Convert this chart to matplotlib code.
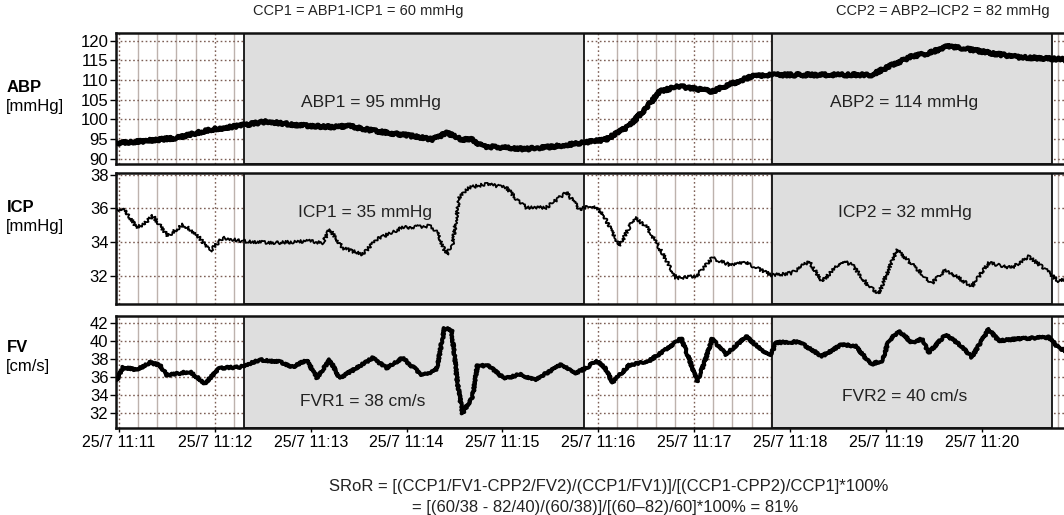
import matplotlib as mpl
mpl.use('Agg')
import matplotlib.pyplot as plt
import numpy as np

plt.rcParams['font.family'] = ['Liberation Sans', 'DejaVu Sans']

# time in minutes after 25/7 11:11
abp_t = [-0.02, 0.25, 0.60, 0.95, 1.23, 1.54, 1.81, 2.17, 2.41, 2.69, 3.03, 3.27, 3.42, 3.58,
         3.69, 3.79, 4.25, 4.56, 4.88, 5.08, 5.32, 5.50, 5.64, 5.84, 6.19, 6.36, 6.60, 6.81,
         7.23, 7.85, 8.03, 8.27, 8.45, 8.63, 8.79, 9.15, 9.39, 9.80, 9.86]
abp = [94.0, 94.5, 95.3, 97.4, 98.3, 99.5, 98.7, 98.1, 98.3, 97.0, 95.9, 94.9, 96.6, 94.9,
       94.9, 93.2, 92.5, 93.2, 94.2, 94.9, 98.3, 102.9, 107.1, 108.4, 107.1, 108.8, 110.9, 111.3,
       111.3, 111.3, 113.4, 116.0, 116.8, 118.5, 118.1, 116.6, 115.8, 115.3, 115.2]

icp_x = [117, 125, 137, 143, 153, 168, 183, 197, 210, 223, 243, 277, 310, 323, 330, 343, 363,
         377, 403, 430, 437, 447, 453, 460, 470, 487, 507, 517, 527, 547, 567, 580, 593, 603,
         620, 635, 647, 660, 677, 697, 713, 730, 747, 773, 793, 810, 823, 843, 853, 870, 880,
         898, 910, 933, 947, 973, 990, 1013, 1030, 1047, 1060, 1066]
icp = [35.94, 35.88, 34.85, 35.04, 35.54, 34.35, 35.04, 34.45, 33.45, 34.25, 34.05, 33.95,
       34.05, 33.95, 34.75, 33.65, 33.25, 34.15, 34.85, 34.95, 34.65, 33.25, 33.85, 36.64,
       37.23, 37.43, 37.23, 36.54, 36.04, 36.04, 36.94, 35.95, 36.14, 35.74, 33.74, 35.44,
       34.95, 33.65, 31.86, 31.96, 33.05, 32.66, 32.76, 32.02, 32.16, 32.86, 31.66, 32.86,
       32.66, 31.36, 30.96, 33.55, 32.86, 31.56, 32.36, 31.36, 32.76, 32.46, 33.15, 32.36,
       31.66, 31.8]

fv_x = [117, 123, 137, 150, 160, 167, 190, 205, 220, 240, 260, 280, 293, 307, 317, 330, 340,
        357, 373, 387, 403, 423, 437, 445, 452, 458, 463, 473, 478, 490, 505, 520, 535, 550,
        562, 575, 587, 597, 606, 613, 630, 650, 665, 682, 690, 698, 705, 713, 727, 747, 763,
        772, 777, 800, 823, 843, 857, 872, 883, 890, 900, 913, 923, 930, 947, 963, 973, 990,
        1000, 1017, 1050, 1061, 1066]
fv = [35.7, 37.1, 36.8, 37.6, 37.3, 36.2, 36.6, 35.3, 37.0, 37.1, 37.9, 37.7, 37.1, 37.9,
      35.9, 37.9, 35.9, 37.0, 38.1, 37.0, 38.1, 36.2, 36.8, 41.4, 41.2, 35.3, 32.0, 33.8,
      37.3, 37.2, 35.8, 36.3, 35.7, 36.6, 37.4, 36.4, 37.0, 37.8, 37.0, 35.4, 37.3, 37.8,
      38.9, 40.3, 38.0, 35.5, 37.5, 40.2, 38.5, 40.5, 38.9, 38.5, 39.8, 39.9, 38.3, 39.6,
      39.4, 37.4, 37.8, 40.0, 41.1, 39.8, 40.2, 38.7, 40.7, 39.4, 38.2, 41.3, 40.0, 40.2,
      40.4, 39.1, 39.0]

# sample positions were read in picture pixels: 11:11 at 119 px, 96 px per minute
icp_t = [(x - 119) / 96 for x in icp_x]
fv_t = [(x - 119) / 96 for x in fv_x]

shade_start = [1.30, 6.81]
shade_end = [4.854, 9.73]
minute_labels = ['25/7 11:%02d' % m for m in range(11, 21)]

W, H = 1064, 515
fig = plt.figure(figsize=(W / 100, H / 100), dpi=100)

def box(left, top, right, bottom):
    return [left / W, 1 - bottom / H, (right - left) / W, (bottom - top) / H]

ax1 = fig.add_axes(box(116, 32.7, 1068, 164))
ax2 = fig.add_axes(box(116, 172.7, 1068, 304))
ax3 = fig.add_axes(box(116, 316, 1068, 427.7))

grid_major = '#7d5f55'
grid_minor = '#bdb2ad'

# (axis, t, values, line width, wiggle scale, ylim, yticks)
panels = [
    (ax1, abp_t, abp, 3.4, 1.4, (88.7, 122.0), np.arange(90, 121, 5)),
    (ax2, icp_t, icp, 1.3, 1.6, (30.32, 38.11), [32, 34, 36, 38]),
    (ax3, fv_t, fv, 2.8, 1.0, (30.41, 42.74), np.arange(32, 43, 2)),
]
for ax, t, v, lw, wig, ylim, yt in panels:
    ax.set_xlim(-0.031, 9.9)
    ax.set_ylim(*ylim)
    ax.set_yticks(yt)
    ax.set_xticks(range(10))
    ax.set_xticks(np.arange(0, 10, 0.2), minor=True)
    ax.set_axisbelow(True)
    ax.grid(which='minor', axis='x', color=grid_minor, lw=1.0, ls='-')
    ax.grid(which='major', axis='both', color=grid_major, lw=1.0, ls=(0, (1.2, 1.8)))
    for s, e in zip(shade_start, shade_end):
        ax.axvspan(s, e, facecolor='#dedede', edgecolor='#111111', lw=1.3, zorder=1)
    line, = ax.plot(t, v, color='black', lw=lw, zorder=3, solid_joinstyle='round')
    line.set_sketch_params(scale=wig, length=3, randomness=3)
    for sp in ax.spines.values():
        sp.set_linewidth(1.8)
        sp.set_color('#111111')
    ax.tick_params(axis='y', direction='out', length=4, width=1, labelsize=12, pad=1.5)
    ax.tick_params(which='minor', length=0)
    ax.tick_params(axis='x', direction='out', length=3, width=1, labelsize=11.5, pad=2.5)

ax1.set_xticklabels([])
ax2.set_xticklabels([])
ax1.tick_params(axis='x', length=0)
ax2.tick_params(axis='x', length=0)
ax3.set_xticklabels(minute_labels)

tsize = 12.5
tcol = '#222222'
ax1.text(2.625, 104.2, 'ABP1 = 95 mmHg', ha='center', va='center', fontsize=tsize, color=tcol, zorder=4)
ax1.text(8.19, 104.2, 'ABP2 = 114 mmHg', ha='center', va='center', fontsize=tsize, color=tcol, zorder=4)
ax2.text(2.57, 35.72, 'ICP1 = 35 mmHg', ha='center', va='center', fontsize=tsize, color=tcol, zorder=4)
ax2.text(8.2, 35.72, 'ICP2 = 32 mmHg', ha='center', va='center', fontsize=tsize, color=tcol, zorder=4)
ax3.text(2.54, 33.25, 'FVR1 = 38 cm/s', ha='center', va='center', fontsize=tsize, color=tcol, zorder=4)
ax3.text(8.2, 33.8, 'FVR2 = 40 cm/s', ha='center', va='center', fontsize=tsize, color=tcol, zorder=4)

fig.text(358 / W, 1 - 11 / H, 'CCP1 = ABP1-ICP1 = 60 mmHg', ha='center', va='center',
         fontsize=10.5, color=tcol)
fig.text(943 / W, 1 - 11 / H, 'CCP2 = ABP2\u2013ICP2 = 82 mmHg', ha='center', va='center',
         fontsize=10.5, color=tcol)

for name, unit, yc in [('ABP', '[mmHg]', 87), ('ICP', '[mmHg]', 208), ('FV', '[cm/s]', 347)]:
    fig.text(7 / W, 1 - yc / H, name, ha='left', va='center', fontsize=12, fontweight='bold')
    fig.text(6 / W, 1 - (yc + 19) / H, unit, ha='left', va='center', fontsize=12)

fig.text(609 / W, 1 - 487 / H, 'SRoR = [(CCP1/FV1-CPP2/FV2)/(CCP1/FV1)]/[(CCP1-CPP2)/CCP1]*100%',
         ha='center', va='center', fontsize=12, color=tcol)
fig.text(605 / W, 1 - 507.5 / H, '= [(60/38 - 82/40)/(60/38)]/[(60\u201382)/60]*100% = 81%',
         ha='center', va='center', fontsize=12, color=tcol)

plt.savefig('out.png', dpi=100)
